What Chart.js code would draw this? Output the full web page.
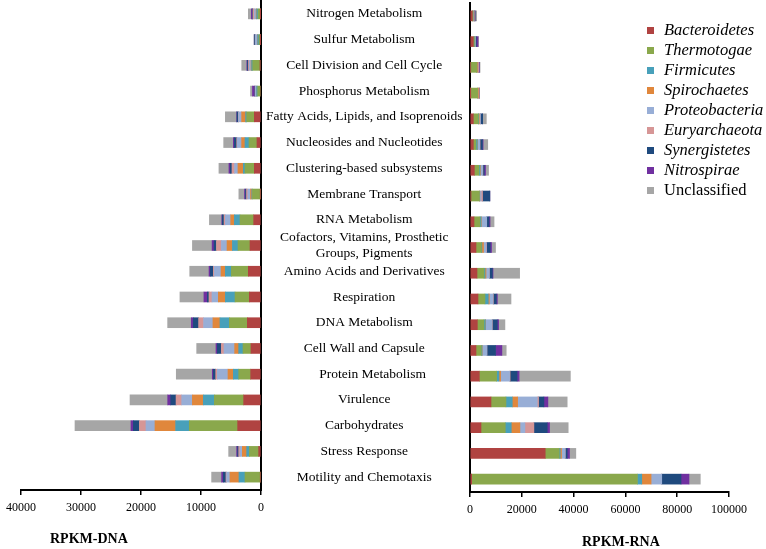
<!DOCTYPE html>
<html>
<head>
<meta charset="utf-8">
<script src="https://cdn.jsdelivr.net/npm/chart.js@4/dist/chart.umd.min.js"></script>
<style>
  html, body { margin: 0; padding: 0; background: #fff; }
  body { width: 766px; height: 549px; overflow: hidden; position: relative; font-family: "Liberation Serif", "Times New Roman", serif; color: #000; }
  #dnaChart { position: absolute; left: 0; top: 0; }
  #rnaChart { position: absolute; left: 440px; top: 0; }
  .axis-title { position: absolute; font-weight: bold; font-size: 14px; line-height: 16px; white-space: nowrap; }
  #legend { position: absolute; left: 645px; top: 20px; }
  .lg-row { height: 20px; line-height: 20px; font-size: 16.5px; white-space: nowrap; position: relative; }
  .lg-box { position: absolute; left: 2px; top: 7px; width: 7px; height: 7px; }
  .lg-text { position: absolute; left: 19px; top: 0; }
</style>
</head>
<body>
<canvas id="dnaChart" width="470" height="549"></canvas>
<canvas id="rnaChart" width="326" height="549"></canvas>
<div class="axis-title" style="left:50px; top:531px;">RPKM-DNA</div>
<div class="axis-title" style="left:582px; top:534px;">RPKM-RNA</div>
<div id="legend"></div>
<script>
// ---------- data ----------
const categories = [
  "Nitrogen Metabolism",
  "Sulfur Metabolism",
  "Cell Division and Cell Cycle",
  "Phosphorus Metabolism",
  "Fatty Acids, Lipids, and Isoprenoids",
  "Nucleosides and Nucleotides",
  "Clustering-based subsystems",
  "Membrane Transport",
  "RNA Metabolism",
  ["Cofactors, Vitamins, Prosthetic", "Groups, Pigments"],
  "Amino Acids and Derivatives",
  "Respiration",
  "DNA Metabolism",
  "Cell Wall and Capsule",
  "     Protein Metabolism",
  "Virulence",
  "Carbohydrates",
  "Stress Response",
  "Motility and Chemotaxis"
];

const seriesNames = ["Bacteroidetes", "Thermotogae", "Firmicutes", "Spirochaetes", "Proteobacteria", "Euryarchaeota", "Synergistetes", "Nitrospirae", "Unclassified"];
const seriesColors = ["#B04341", "#8AA84C", "#48A0BA", "#E0873C", "#98AED6", "#D69696", "#1F4A7E", "#7030A0", "#A6A6A6"];

const dnaTicks = [0, 10000, 20000, 30000, 40000];
const rnaTicks = [0, 20000, 40000, 60000, 80000, 100000];

// RPKM-DNA (left panel)
const dnaBacteroidetes  = [50, 50, 170, 0, 1110, 670, 1110, 100, 1220, 1830, 2110, 1940, 2280, 1670, 1720, 2890, 3890, 390, 110];
const dnaThermotogae    = [440, 280, 1220, 560, 1280, 1330, 1560, 1330, 2280, 2000, 2830, 2390, 3000, 1330, 2000, 4890, 8060, 1560, 2560];
const dnaFirmicutes     = [220, 220, 170, 170, 170, 670, 280, 100, 940, 940, 1000, 1610, 1560, 720, 890, 1830, 2280, 440, 1000];
const dnaSpirochaetes   = [100, 50, 100, 0, 670, 560, 890, 220, 610, 890, 720, 1170, 1170, 670, 890, 1830, 3440, 720, 1500];
const dnaProteobacteria = [280, 330, 280, 200, 500, 720, 560, 440, 890, 940, 1110, 1060, 1560, 1780, 1780, 1780, 1500, 390, 560];
const dnaEuryarchaeota  = [250, 50, 150, 50, 50, 100, 440, 220, 220, 830, 170, 500, 830, 440, 270, 940, 1110, 220, 110];
const dnaSynergistetes  = [100, 150, 170, 50, 220, 390, 280, 170, 280, 390, 500, 280, 890, 670, 400, 890, 1000, 170, 440];
const dnaNitrospirae    = [170, 0, 100, 390, 50, 170, 220, 170, 100, 330, 220, 560, 330, 220, 170, 500, 390, 170, 280];
const dnaUnclassified   = [500, 0, 850, 330, 1890, 1610, 1670, 940, 2060, 3280, 3220, 4000, 3940, 3220, 6000, 6280, 9330, 1330, 1670];

// RPKM-RNA (right panel)
const rnaBacteroidetes  = [900, 1280, 260, 100, 1280, 1280, 1670, 390, 1540, 2310, 2700, 3080, 2830, 2310, 3600, 8100, 4240, 29040, 640];
const rnaThermotogae    = [260, 390, 2310, 2830, 1930, 1030, 1800, 3210, 2310, 2060, 2700, 2700, 2570, 2060, 6680, 5780, 9380, 5400, 64000];
const rnaFirmicutes     = [0, 260, 100, 0, 130, 510, 390, 0, 390, 200, 390, 1280, 510, 260, 900, 2440, 2310, 400, 1670];
const rnaSpirochaetes   = [0, 0, 390, 320, 260, 150, 200, 200, 150, 640, 390, 390, 150, 100, 640, 2060, 3340, 500, 3600];
const rnaProteobacteria = [260, 260, 100, 0, 390, 770, 770, 500, 2060, 1030, 1280, 1410, 2440, 1800, 3470, 7580, 1930, 1410, 4110];
const rnaEuryarchaeota  = [260, 0, 200, 320, 0, 150, 150, 530, 0, 150, 0, 150, 100, 0, 200, 510, 3470, 0, 0];
const rnaSynergistetes  = [260, 260, 0, 0, 900, 900, 510, 2830, 900, 1410, 1160, 1160, 1930, 3340, 2700, 2060, 5140, 770, 7450];
const rnaNitrospirae    = [0, 640, 260, 0, 0, 260, 510, 0, 390, 510, 260, 390, 510, 2440, 770, 1540, 900, 900, 3080];
const rnaUnclassified   = [640, 250, 260, 0, 1410, 1800, 1160, 0, 1540, 1540, 10280, 5270, 2440, 1670, 19790, 7450, 7200, 2440, 4370];

const dnaSeries = [dnaBacteroidetes, dnaThermotogae, dnaFirmicutes, dnaSpirochaetes, dnaProteobacteria, dnaEuryarchaeota, dnaSynergistetes, dnaNitrospirae, dnaUnclassified];
const rnaSeries = [rnaBacteroidetes, rnaThermotogae, rnaFirmicutes, rnaSpirochaetes, rnaProteobacteria, rnaEuryarchaeota, rnaSynergistetes, rnaNitrospirae, rnaUnclassified];

// ---------- charts ----------
const FONT = "'Liberation Serif', 'Times New Roman', serif";
Chart.defaults.font.family = FONT;
Chart.defaults.color = '#000';

function makeDatasets(series) {
  return series.map((d, i) => ({
    label: seriesNames[i],
    data: d,
    backgroundColor: seriesColors[i],
    borderWidth: 0,
    barThickness: 10
  }));
}

const tickFormat = v => String(v);

new Chart(document.getElementById('dnaChart'), {
  type: 'bar',
  data: { labels: categories, datasets: makeDatasets(dnaSeries) },
  options: {
    responsive: false,
    animation: false,
    indexAxis: 'y',
    layout: { padding: { left: 21, top: 1, right: 0, bottom: 0 } },
    plugins: { legend: { display: false }, tooltip: { enabled: false } },
    scales: {
      x: {
        type: 'linear', stacked: true, reverse: true,
        min: dnaTicks[0], max: dnaTicks[dnaTicks.length - 1],
        afterBuildTicks: s => { s.ticks = dnaTicks.map(v => ({ value: v })); },
        afterFit: s => { s.height = 59; },
        border: { color: '#000', width: 2 },
        grid: { display: true, drawOnChartArea: false, drawTicks: true, tickLength: 5, color: '#000', lineWidth: 1.5 },
        ticks: { callback: tickFormat, padding: 6, font: { size: 12 }, color: '#000', maxRotation: 0 }
      },
      y: {
        type: 'category', stacked: true, position: 'right',
        afterFit: s => { s.width = 209; s.paddingTop = 0; s.paddingBottom = 0; },
        border: { color: '#000', width: 2 },
        grid: { display: false, drawTicks: false },
        ticks: { crossAlign: 'center', padding: 5, font: { size: 13.5 }, color: '#000', autoSkip: false }
      }
    }
  }
});

new Chart(document.getElementById('rnaChart'), {
  type: 'bar',
  data: { labels: categories, datasets: makeDatasets(rnaSeries) },
  options: {
    responsive: false,
    animation: false,
    indexAxis: 'y',
    layout: { padding: { left: 0, top: 3, right: 37, bottom: 0 } },
    plugins: { legend: { display: false }, tooltip: { enabled: false } },
    scales: {
      x: {
        type: 'linear', stacked: true,
        min: rnaTicks[0], max: rnaTicks[rnaTicks.length - 1],
        afterBuildTicks: s => { s.ticks = rnaTicks.map(v => ({ value: v })); },
        afterFit: s => { s.height = 57; },
        border: { color: '#000', width: 2 },
        grid: { display: true, drawOnChartArea: false, drawTicks: true, tickLength: 5, color: '#000', lineWidth: 1.5 },
        ticks: { callback: tickFormat, padding: 6, font: { size: 12 }, color: '#000', maxRotation: 0 }
      },
      y: {
        type: 'category', stacked: true, position: 'left',
        afterFit: s => { s.width = 30; s.paddingTop = 0; s.paddingBottom = 0; },
        border: { color: '#000', width: 2 },
        grid: { display: false, drawTicks: false },
        ticks: { display: false }
      }
    }
  }
});

// ---------- legend (HTML, built from the series arrays) ----------
const legendEl = document.getElementById('legend');
seriesNames.forEach((name, i) => {
  const row = document.createElement('div');
  row.className = 'lg-row';
  const box = document.createElement('span');
  box.className = 'lg-box';
  box.style.background = seriesColors[i];
  const txt = document.createElement('span');
  txt.className = 'lg-text';
  txt.textContent = name;
  txt.style.fontStyle = name === 'Unclassified' ? 'normal' : 'italic';
  row.appendChild(box);
  row.appendChild(txt);
  legendEl.appendChild(row);
});
</script>
</body>
</html>
